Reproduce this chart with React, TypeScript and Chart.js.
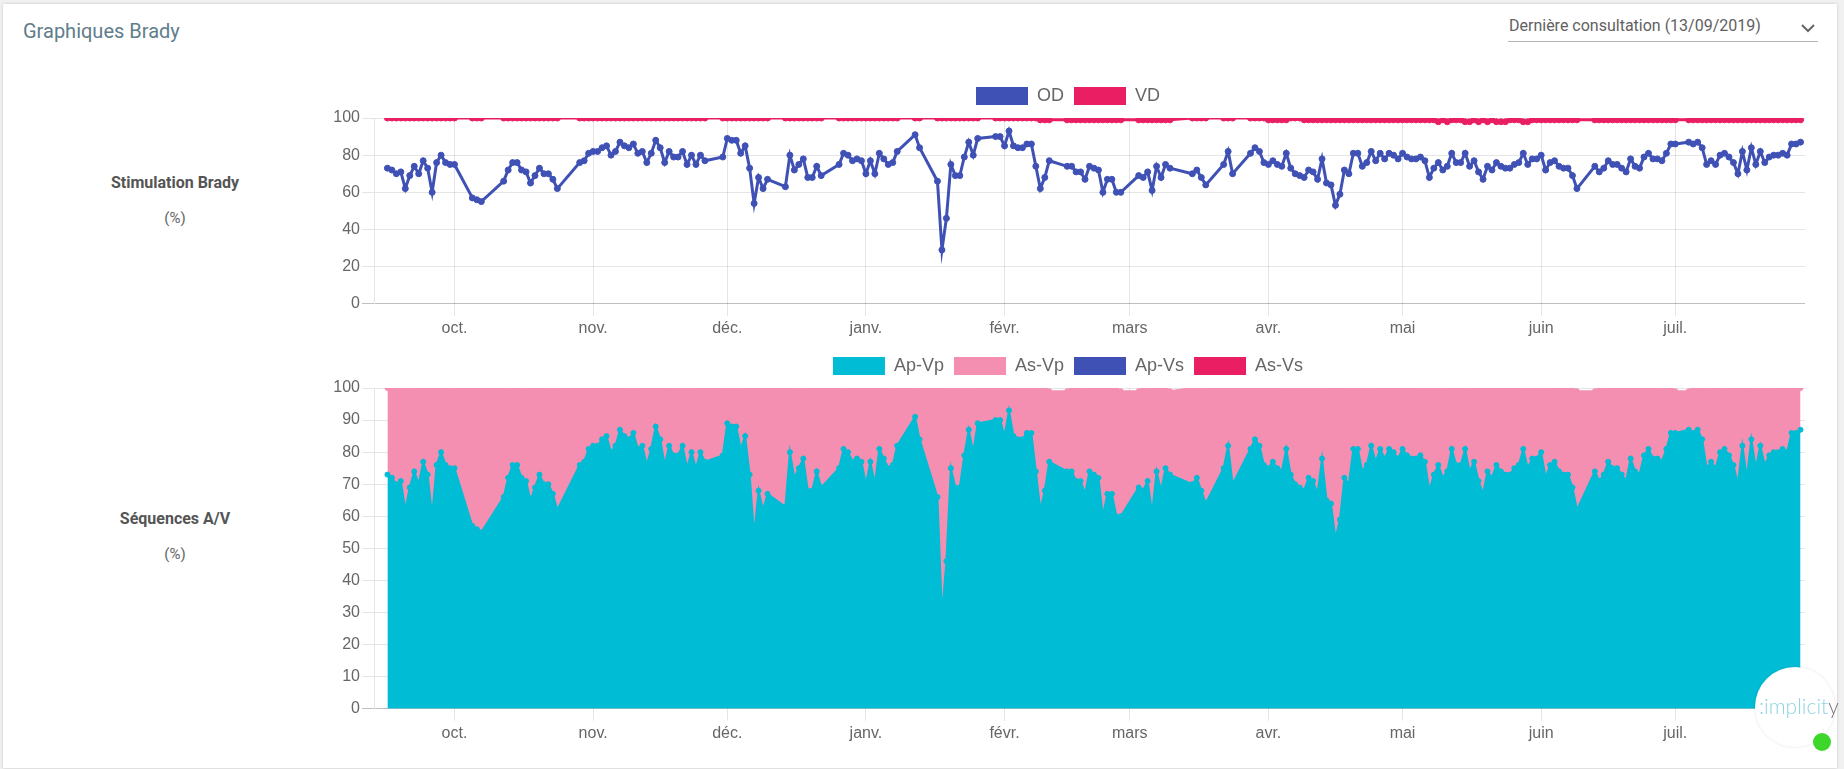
import React, { useEffect, useRef } from 'react';
import { Chart, registerables } from 'chart.js';

Chart.register(...registerables);
Chart.defaults.font.family = "'Liberation Sans', Arial, Helvetica, sans-serif";
Chart.defaults.font.size = 16;
Chart.defaults.color = '#666';

// One value per day, starting on firstDay; null = no transmission that day.
const firstDay = '2018-09-16';
const axisStart = '2018-09-13';
const axisEnd = '2019-07-30';
const firstMonth = '2018-10-01';
const monthLabels = ['oct.', 'nov.', 'déc.', 'janv.', 'févr.', 'mars', 'avr.', 'mai', 'juin', 'juil.'];

// Stimulation Brady (%)
const od: (number | null)[] = [
  73, 72, 70, 71, 62, 69, 74, 70, 77, 73, 60, 76, 80, 76, 75, 75, null, null, null, 57,
  56, 55, null, null, null, null, 66, 72, 76, 76, 72, 71, 65, 69, 73, 70, 70, 67, 62, null,
  null, null, null, 76, 77, 81, 82, 82, 84, 85, 80, 82, 87, 85, 84, 86, 81, 82, 76, 81,
  88, 84, 76, 82, 79, 79, 82, 75, 80, 75, 80, 77, null, null, null, 79, 89, 88, 88, 81,
  85, 73, 54, 68, 62, 67, null, null, null, 63, 80, 72, 75, 78, 68, 68, 74, 69, null, null,
  null, 75, 81, 80, 77, 78, 77, 70, 77, 70, 81, 78, 75, 76, 82, null, null, null, 91, 84,
  null, null, null, 66, 29, 46, 75, 69, 69, 79, 87, 80, 89, null, null, null, 90, 90, 85, 93,
  85, 84, 84, 86, 86, 74, 62, 68, 77, null, null, null, 74, 74, 71, 71, 67, 74, 73, 72,
  60, 67, 67, 60, 60, null, null, null, 69, 68, 71, 61, 74, 68, 75, 73, null, null, null, null,
  70, 72, 68, 64, null, null, null, 75, 82, 70, null, null, null, 81, 84, 82, 76, 75, 77, 75,
  74, 81, 73, 70, 69, 68, 72, 71, 67, 78, 65, 64, 53, 59, 72, 70, 81, 81, 74, 76,
  82, 77, 81, 78, 81, 80, 78, 81, 79, 78, 78, 79, 77, 68, 73, 76, 72, 74, 81, 76,
  76, 81, 74, 77, 71, 67, 74, 72, 76, 74, 73, 73, 75, 76, 81, 75, 78, 78, 80, 72,
  76, 77, 74, 73, 73, 69, 62, null, null, null, 74, 71, 73, 77, 75, 75, 73, 71, 78, 74,
  73, 79, 81, 78, 78, 77, 81, 86, 86, null, null, 87, 86, 87, 84, 75, 77, 75, 80, 81,
  79, 76, 70, 82, 72, 84, 75, 82, 76, 79, 80, 80, 81, 80, 86, 86, 87,
];

const vd: (number | null)[] = [
  100, 100, 100, 100, 100, 100, 100, 100, 100, 100, 100, 100, 100, 100, 100, 100, null, null, null, 100,
  100, 100, null, null, null, null, 100, 100, 100, 100, 100, 100, 100, 100, 100, 100, 100, 100, 100, null,
  null, null, null, 100, 100, 100, 100, 100, 100, 100, 100, 100, 100, 100, 100, 100, 100, 100, 100, 100,
  100, 100, 100, 100, 100, 100, 100, 100, 100, 100, 100, 100, null, null, null, 100, 100, 100, 100, 100,
  100, 100, 100, 100, 100, 100, null, null, null, 100, 100, 100, 100, 100, 100, 100, 100, 100, null, null,
  null, 100, 100, 100, 100, 100, 100, 100, 100, 100, 100, 100, 100, 100, 100, null, null, null, 100, 100,
  null, null, null, 100, 100, 100, 100, 100, 100, 100, 100, 100, 100, null, null, null, 100, 100, 100, 100,
  100, 100, 100, 100, 100, 100, 99, 99, 99, null, null, null, 99, 99, 99, 99, 99, 99, 99, 99,
  99, 99, 99, 99, 99, null, null, null, 99, 99, 99, 99, 99, 99, 99, 99, null, null, null, null,
  100, 100, 100, 100, null, null, null, 100, 100, 100, null, null, null, 100, 100, 100, 100, 99, 99, 99,
  99, 99, 100, 100, 100, 99, 99, 99, 99, 99, 99, 99, 99, 99, 99, 99, 99, 99, 99, 99,
  99, 99, 99, 99, 99, 99, 99, 99, 99, 99, 99, 99, 99, 99, 99, 98, 99, 98, 99, 99,
  99, 98, 98, 99, 98, 99, 98, 99, 98, 98, 98, 99, 99, 99, 98, 98, 99, 99, 99, 99,
  99, 99, 99, 99, 99, 99, 99, null, null, null, 99, 99, 99, 99, 99, 99, 99, 99, 99, 99,
  99, 99, 99, 99, 99, 99, 99, 99, 99, null, null, 99, 99, 99, 99, 99, 99, 99, 99, 99,
  99, 99, 99, 99, 99, 99, 99, 99, 99, 99, 99, 99, 99, 99, 99, 99, 99,
];

// Séquences A/V (%)
const apVp: (number | null)[] = [
  73, 72, 70, 71, 62, 69, 74, 70, 77, 73, 60, 76, 80, 76, 75, 75, null, null, null, 57,
  56, 55, null, null, null, null, 66, 72, 76, 76, 72, 71, 65, 69, 73, 70, 70, 67, 62, null,
  null, null, null, 76, 77, 81, 82, 82, 84, 85, 80, 82, 87, 85, 84, 86, 81, 82, 76, 81,
  88, 84, 76, 82, 79, 79, 82, 75, 80, 75, 80, 77, null, null, null, 79, 89, 88, 88, 81,
  85, 73, 54, 68, 62, 67, null, null, null, 63, 80, 72, 75, 78, 68, 68, 74, 69, null, null,
  null, 75, 81, 80, 77, 78, 77, 70, 77, 70, 81, 78, 75, 76, 82, null, null, null, 91, 84,
  null, null, null, 66, 29, 46, 75, 69, 69, 79, 87, 80, 89, null, null, null, 90, 90, 85, 93,
  85, 84, 84, 86, 86, 74, 62, 68, 77, null, null, null, 74, 74, 71, 71, 67, 74, 73, 72,
  60, 67, 67, 60, 60, null, null, null, 69, 68, 71, 61, 74, 68, 75, 73, null, null, null, null,
  70, 72, 68, 64, null, null, null, 75, 82, 70, null, null, null, 81, 84, 82, 76, 75, 77, 75,
  74, 81, 73, 70, 69, 68, 72, 71, 67, 78, 65, 64, 53, 59, 72, 70, 81, 81, 74, 76,
  82, 77, 81, 78, 81, 80, 78, 81, 79, 78, 78, 79, 77, 68, 73, 76, 72, 74, 81, 76,
  76, 81, 74, 77, 71, 67, 74, 72, 76, 74, 73, 73, 75, 76, 81, 75, 78, 78, 80, 72,
  76, 77, 74, 73, 73, 69, 62, null, null, null, 74, 71, 73, 77, 75, 75, 73, 71, 78, 74,
  73, 79, 81, 78, 78, 77, 81, 86, 86, null, null, 87, 86, 87, 84, 75, 77, 75, 80, 81,
  79, 76, 70, 82, 72, 84, 75, 82, 76, 79, 80, 80, 81, 80, 86, 86, 87,
];

const asVp: (number | null)[] = [
  27, 28, 30, 29, 38, 31, 26, 30, 23, 27, 40, 24, 20, 24, 25, 25, null, null, null, 43,
  44, 45, null, null, null, null, 34, 28, 24, 24, 28, 29, 35, 31, 27, 30, 30, 33, 38, null,
  null, null, null, 24, 23, 19, 18, 18, 16, 15, 20, 18, 13, 15, 16, 14, 19, 18, 24, 19,
  12, 16, 24, 18, 21, 21, 18, 25, 20, 25, 20, 23, null, null, null, 21, 11, 12, 12, 19,
  15, 27, 46, 32, 38, 33, null, null, null, 37, 20, 28, 25, 22, 32, 32, 26, 31, null, null,
  null, 25, 19, 20, 23, 22, 23, 30, 23, 30, 19, 22, 25, 24, 18, null, null, null, 9, 16,
  null, null, null, 34, 71, 54, 25, 31, 31, 21, 13, 20, 11, null, null, null, 10, 10, 15, 7,
  15, 16, 16, 14, 14, 26, 38, 32, 22, null, null, null, 25, 26, 29, 29, 33, 26, 27, 28,
  40, 33, 33, 40, 39, null, null, null, 30, 32, 29, 39, 26, 32, 25, 26, null, null, null, null,
  30, 28, 32, 36, null, null, null, 25, 18, 30, null, null, null, 19, 16, 18, 24, 25, 23, 25,
  26, 19, 27, 30, 31, 32, 28, 29, 33, 22, 35, 36, 47, 41, 28, 30, 19, 19, 26, 24,
  18, 23, 19, 22, 19, 20, 22, 19, 21, 22, 22, 21, 23, 32, 27, 24, 28, 26, 19, 24,
  24, 19, 26, 23, 29, 33, 26, 28, 24, 26, 27, 27, 25, 24, 19, 25, 22, 22, 20, 28,
  24, 23, 26, 27, 27, 31, 37, null, null, null, 25, 29, 27, 23, 25, 25, 27, 29, 22, 26,
  27, 21, 19, 22, 22, 23, 19, 14, 13, null, null, 12, 14, 13, 16, 25, 23, 25, 20, 19,
  21, 24, 30, 18, 28, 16, 25, 18, 24, 21, 20, 20, 19, 20, 14, 14, 13,
];

// No Ap-Vs / As-Vs sequences were recorded over the period.
const apVs: (number | null)[] = [];
const asVs: (number | null)[] = [];

const INDIGO = '#3F51B5';
const PINK = '#E91E63';
const CYAN = '#00BCD4';
const LIGHT_PINK = '#F48FB1';

function dayOffset(iso: string): number {
  const [y, m, d] = iso.split('-').map(Number);
  const [y0, m0, d0] = firstDay.split('-').map(Number);
  return Math.round((Date.UTC(y, m - 1, d) - Date.UTC(y0, m0 - 1, d0)) / 86400000);
}

const monthTicks = monthLabels.map((label, k) => {
  const [y, m] = firstMonth.split('-').map(Number);
  const iso = new Date(Date.UTC(y, m - 1 + k, 1)).toISOString().slice(0, 10);
  return { value: dayOffset(iso), label };
});

function toPoints(values: (number | null)[]) {
  const pts: { x: number; y: number }[] = [];
  values.forEach((v, i) => {
    if (v !== null) pts.push({ x: i, y: v });
  });
  return pts;
}

// Pushes the plot area a few pixels below the legend row.
const legendGap = {
  id: 'legendGap',
  afterInit(chart: any) {
    const fit = chart.legend.fit;
    chart.legend.fit = function () {
      fit.call(this);
      this.height += 3;
    };
  },
};

function timeAxis() {
  return {
    type: 'linear',
    bounds: 'data',
    min: dayOffset(axisStart),
    max: dayOffset(axisEnd),
    afterBuildTicks: (scale: any) => {
      scale.ticks = monthTicks.map((t) => ({ value: t.value }));
    },
    ticks: {
      autoSkip: false,
      maxRotation: 0,
      padding: 3,
      color: '#666',
      font: { size: 16 },
      callback: (value: number) => monthTicks.find((t) => t.value === value)?.label ?? '',
    },
    grid: { color: 'rgba(0,0,0,0.1)', tickLength: 12 },
    border: { display: false },
  };
}

function percentAxis(step: number, stacked: boolean) {
  return {
    stacked,
    min: 0,
    max: 100,
    ticks: { stepSize: step, padding: 2, color: '#666', font: { size: 16 } },
    grid: {
      color: (c: any) => (c.tick && c.tick.value === 0 ? 'rgba(0,0,0,0.25)' : 'rgba(0,0,0,0.1)'),
      tickLength: 12,
    },
    border: { color: 'rgba(0,0,0,0.1)' },
    afterFit: (s: any) => {
      s.width = 48;
    },
  };
}

function legendOptions() {
  return {
    position: 'top',
    labels: {
      boxWidth: 52,
      boxHeight: 18,
      padding: 10,
      color: '#666',
      font: { size: 18 },
      generateLabels: (chart: any) =>
        (Chart.defaults.plugins.legend.labels as any)
          .generateLabels(chart)
          .map((l: any) => ({ ...l, lineWidth: 0 })),
    },
  };
}

function series(label: string, values: (number | null)[], color: string, extra: any = {}) {
  return {
    label,
    data: toPoints(values),
    borderColor: color,
    backgroundColor: color,
    pointBackgroundColor: color,
    pointBorderColor: color,
    borderWidth: 3,
    pointRadius: 3,
    pointBorderWidth: 1,
    fill: false,
    ...extra,
  };
}

function stimulationConfig(): any {
  return {
    type: 'line',
    data: {
      datasets: [series('OD', od, INDIGO), series('VD', vd, PINK)],
    },
    options: {
      responsive: false,
      animation: false,
      events: [],
      layout: { padding: 0 },
      plugins: { legend: legendOptions(), tooltip: { enabled: false } },
      scales: { x: timeAxis(), y: percentAxis(20, false) },
    },
    plugins: [legendGap],
  };
}

function sequencesConfig(): any {
  return {
    type: 'line',
    data: {
      datasets: [
        series('Ap-Vp', apVp, CYAN, { fill: 'origin', borderWidth: 2, pointRadius: 2.5 }),
        series('As-Vp', asVp, LIGHT_PINK, { fill: '-1', borderWidth: 2, pointRadius: 2.5 }),
        series('Ap-Vs', apVs, INDIGO),
        series('As-Vs', asVs, PINK),
      ],
    },
    options: {
      responsive: false,
      animation: false,
      events: [],
      layout: { padding: 0 },
      plugins: { legend: legendOptions(), tooltip: { enabled: false } },
      scales: { x: timeAxis(), y: percentAxis(10, true) },
    },
    plugins: [legendGap],
  };
}

function ChartCanvas(props: { make: () => any; left: number; top: number; width: number; height: number }) {
  const ref = useRef<HTMLCanvasElement>(null);
  useEffect(() => {
    const chart = new Chart(ref.current as HTMLCanvasElement, props.make());
    return () => chart.destroy();
  }, []);
  return (
    <canvas
      ref={ref}
      width={props.width}
      height={props.height}
      style={{ position: 'absolute', left: props.left, top: props.top, width: props.width, height: props.height }}
    />
  );
}

const textFont = 'Roboto, "Noto Sans", sans-serif';

function SideLabel(props: { title: string; top: number; unitTop: number }) {
  return (
    <>
      <div
        style={{
          position: 'absolute', left: 25, width: 300, top: props.top, textAlign: 'center',
          fontFamily: textFont, fontWeight: 700, fontSize: 16, lineHeight: '16px', color: '#555',
        }}
      >
        {props.title}
      </div>
      <div
        style={{
          position: 'absolute', left: 25, width: 300, top: props.unitTop, textAlign: 'center',
          fontFamily: textFont, fontSize: 15, lineHeight: '15px', color: '#666',
        }}
      >
        (%)
      </div>
    </>
  );
}

export default function App() {
  return (
    <div style={{ position: 'absolute', left: 0, top: 0, width: 1844, height: 769, background: '#f1f1f1', overflow: 'hidden' }}>
      <div
        style={{
          position: 'absolute', left: 3, top: 4, width: 1834, height: 764, background: '#fff',
          boxShadow: '0 0 3px rgba(0,0,0,0.18)',
        }}
      />
      <div
        style={{
          position: 'absolute', left: 23, top: 21, fontFamily: textFont, fontSize: 20, lineHeight: '20px',
          color: '#607D8B', whiteSpace: 'nowrap',
        }}
      >
        Graphiques Brady
      </div>
      <div
        style={{
          position: 'absolute', left: 1509, top: 18, fontFamily: textFont, fontSize: 16, lineHeight: '16px',
          color: '#616161', whiteSpace: 'nowrap',
        }}
      >
        Dernière consultation (13/09/2019)
      </div>
      <svg style={{ position: 'absolute', left: 1798, top: 20, width: 20, height: 16 }}>
        <polyline points="4,5 10,11 16,5" fill="none" stroke="#666" strokeWidth={2} />
      </svg>
      <div style={{ position: 'absolute', left: 1508, top: 41, width: 310, height: 1, background: '#b5b5b5' }} />

      <SideLabel title="Stimulation Brady" top={175} unitTop={211} />
      <SideLabel title="Séquences A/V" top={511} unitTop={547} />

      <ChartCanvas make={stimulationConfig} left={326} top={77} width={1484} height={264} />
      <ChartCanvas make={sequencesConfig} left={326} top={347} width={1484} height={399} />

      <div
        style={{
          position: 'absolute', left: 1755, top: 667, width: 80, height: 80, borderRadius: '50%',
          background: '#fff', boxShadow: '0 0 3px rgba(0,0,0,0.12)',
        }}
      />
      <div
        style={{
          position: 'absolute', left: 1759, top: 695, fontFamily: 'Lato, Roboto, sans-serif', fontWeight: 300,
          fontSize: 21, lineHeight: '21px', whiteSpace: 'nowrap', color: '#8fd4e3',
        }}
      >
        :implicit<span style={{ color: '#777' }}>y</span>
      </div>
      <div
        style={{
          position: 'absolute', left: 1813, top: 733, width: 18, height: 18, borderRadius: '50%', background: '#3dd62b',
        }}
      />
    </div>
  );
}
